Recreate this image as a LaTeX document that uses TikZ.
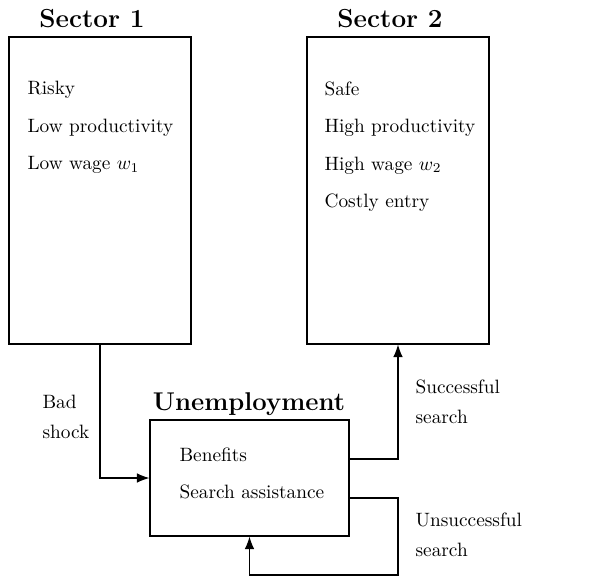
\documentclass[tikz,border=0pt]{standalone}
\usepackage{amsmath}
\usepackage{tikz}
\usetikzlibrary{
  arrows.meta,
  positioning,  % Function "of"
  calc,         % Calculations $...$
}
\tikzset{
  >={Latex[length=6.5pt,width=5pt]},
  my box/.style={
    draw,
    rectangle,
    inner sep=0mm
  },
  sector box/.style={
    my box,
    minimum width=94.3pt,
    minimum height=159pt
  },
  my title/.style={
    font=\fontsize{13.5}{16}\selectfont\bfseries,
    inner sep=0mm,
    anchor=base
  },
  my list/.style={
    align=left,
    inner sep=0mm,
    anchor=north west,
    font=\fontsize{10}{19.4}\selectfont
  },
  my label/.style={
    align=left,
    inner sep=0mm,
    anchor=north west,
    font=\fontsize{10}{15.5}\selectfont
  }
}

\begin{document}
\begin{tikzpicture}[x=0.518pt,y=-0.518pt,semithick]
\useasboundingbox (0,0) rectangle (606,576);
% sectors
\node[sector box] (s1) at (100,190.5) {};
\node[sector box] (s2) at (398,190.5) {};
\node[my title]   (t1) at (92,27)  {Sector 1};
\node[my title]   (t2) at (390,27) {Sector 2};
\node[my list]    (l1) at (27,81)  {Risky\\Low productivity\\Low wage $w_1$};
\node[my list]    (l2) at (324,81) {Safe\\High productivity\\High wage $w_2$\\Costly entry};
% unemployment
\node[my box,minimum width=103.1pt,minimum height=60.1pt] (u) at (249.5,478) {};
\node[my title,font=\fontsize{13.3}{16}\selectfont\bfseries] (tu) at (249,410) {Unemployment};
\node[my list]    (lu) at (179,447) {Benefits\\Search assistance};
% flows
\coordinate (succ) at ($(u.east)+(0,-19)$);
\coordinate (fail) at ($(u.east)+(0,20)$);
\coordinate (turn) at (398,575);
\draw[->] (s1.south) |- (u.west);
\draw[->] (succ) -| (s2.south);
\draw[->] (fail) -| (turn) -| (u.south);
\node[my label] (bad)  at (42,395)  {Bad\\shock};
\node[my label] (ok)   at (415,379) {Successful\\search};
\node[my label] (nok)  at (415,512) {Unsuccessful\\search};
\end{tikzpicture}
\end{document}
